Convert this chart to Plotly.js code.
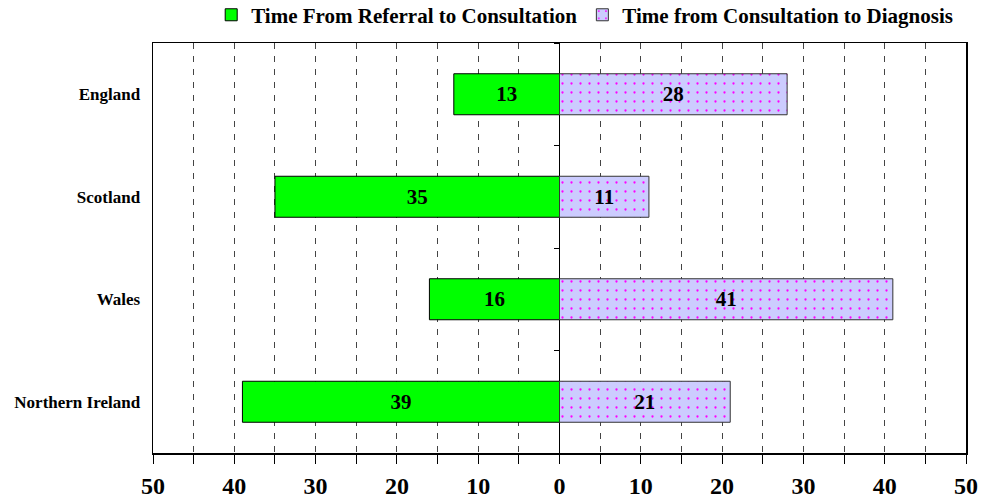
<!DOCTYPE html>
<html>
<head>
<meta charset="utf-8">
<script src="https://cdn.plot.ly/plotly-3.0.1.min.js"></script>
<style>html,body{margin:0;padding:0;background:#fff;}</style>
</head>
<body>
<div id="chart" style="width:983px;height:501px;"></div>
<script>
// Data
const countries = ["England", "Scotland", "Wales", "Northern Ireland"];
const referralToConsultation = [13, 35, 16, 39];
const consultationToDiagnosis = [28, 11, 41, 21];
const xTickValues = [-50, -40, -30, -20, -10, 0, 10, 20, 30, 40, 50];
const xTickLabels = ["50", "40", "30", "20", "10", "0", "10", "20", "30", "40", "50"];
const seriesNames = ["Time From Referral to Consultation", "Time from Consultation to Diagnosis"];

const serif = "Liberation Serif, Times New Roman, serif";

const traces = [
  {
    type: "bar",
    orientation: "h",
    name: seriesNames[0],
    y: countries,
    x: referralToConsultation.map(v => -v),
    text: referralToConsultation.map(String),
    textposition: "inside",
    insidetextanchor: "middle",
    textangle: 0,
    constraintext: "none",
    textfont: {family: serif, size: 21, weight: "bold", color: "#000"},
    marker: {color: "#00FF00", line: {color: "#000", width: 1}},
    hoverinfo: "skip",
    xaxis: "x",
    yaxis: "y"
  },
  {
    type: "bar",
    orientation: "h",
    name: seriesNames[1],
    y: countries,
    x: consultationToDiagnosis,
    text: consultationToDiagnosis.map(String),
    textposition: "inside",
    insidetextanchor: "middle",
    textangle: 0,
    constraintext: "none",
    textfont: {family: serif, size: 21, weight: "bold", color: "#000"},
    marker: {
      color: "#CCCCFF",
      pattern: {shape: ".", fgcolor: "#FF00FF", bgcolor: "#CCCCFF", size: 9, solidity: 0.05},
      line: {color: "#333", width: 1}
    },
    hoverinfo: "skip",
    xaxis: "x",
    yaxis: "y2"
  }
];

const layout = {
  width: 983,
  height: 501,
  margin: {l: 153, r: 17, t: 43, b: 48, autoexpand: false},
  paper_bgcolor: "#fff",
  plot_bgcolor: "#fff",
  font: {family: serif, color: "#000"},
  bargap: 0.6,
  barmode: "overlay",
  showlegend: true,
  legend: {
    orientation: "h",
    x: 0.531, xanchor: "center",
    y: 1.068, yanchor: "middle",
    font: {family: serif, size: 21, weight: "bold", color: "#000"},
    itemwidth: 30,
    traceorder: "normal",
    bgcolor: "rgba(0,0,0,0)"
  },
  xaxis: {
    range: [-50, 50],
    tickmode: "array",
    tickvals: xTickValues,
    ticktext: xTickLabels,
    ticks: "outside",
    ticklen: 9,
    tickwidth: 1,
    tickcolor: "#000",
    tickfont: {family: serif, size: 24, weight: "bold", color: "#000"},
    ticklabelstandoff: 2,
    showline: true,
    mirror: true,
    linecolor: "#000",
    linewidth: 1.5,
    showgrid: true,
    gridcolor: "#444",
    gridwidth: 1,
    griddash: "6px,7px",
    zeroline: true,
    zerolinecolor: "#000",
    zerolinewidth: 1,
    minor: {
      dtick: 5,
      tick0: 0,
      ticks: "outside",
      ticklen: 9,
      tickwidth: 1,
      tickcolor: "#000",
      showgrid: true,
      gridcolor: "#444",
      gridwidth: 1,
      griddash: "6px,7px"
    },
    fixedrange: true
  },
  yaxis: {
    type: "category",
    categoryorder: "array",
    categoryarray: countries,
    autorange: "reversed",
    showline: true,
    mirror: true,
    linecolor: "#000",
    linewidth: 1.5,
    ticks: "",
    showgrid: false,
    zeroline: false,
    tickfont: {family: serif, size: 17, weight: "bold", color: "#000"},
    ticklabelstandoff: 8,
    fixedrange: true
  },
  yaxis2: {
    type: "category",
    categoryorder: "array",
    categoryarray: countries,
    autorange: "reversed",
    overlaying: "y",
    anchor: "free",
    position: 0.5,
    side: "left",
    tickson: "boundaries",
    ticks: "outside",
    ticklen: 6,
    tickwidth: 1,
    tickcolor: "#000",
    showticklabels: false,
    showgrid: false,
    showline: false,
    zeroline: false,
    fixedrange: true
  }
};

Plotly.newPlot("chart", traces, layout, {displayModeBar: false, staticPlot: true});
</script>
</body>
</html>
